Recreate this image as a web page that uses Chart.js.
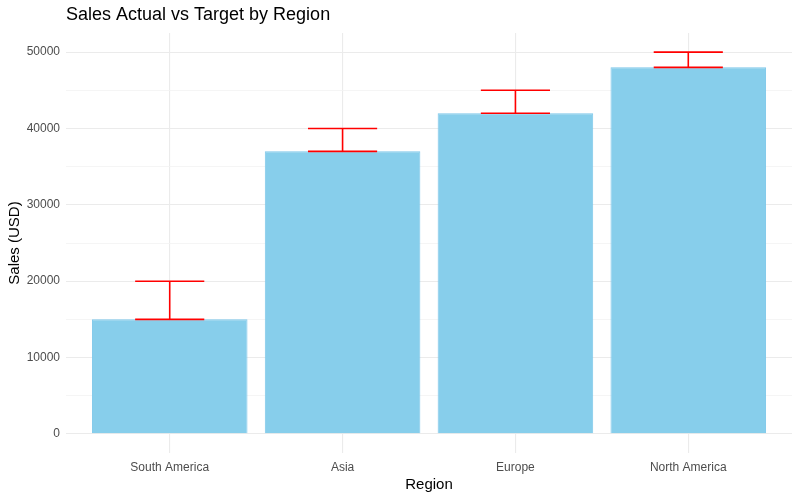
<!DOCTYPE html>
<html>
<head>
<meta charset="utf-8">
<title>Sales Actual vs Target by Region</title>
<script src="https://cdn.jsdelivr.net/npm/chart.js@4.4.1/dist/chart.umd.min.js"></script>
<style>
    html, body { margin: 0; padding: 0; background: #ffffff; }
    #wrap { width: 800px; height: 498px; }
</style>
</head>
<body>
<div id="wrap"><canvas id="salesChart" width="800" height="498"></canvas></div>
<script>
// Chart data
const regions = ['South America', 'Asia', 'Europe', 'North America'];
const actualSales = [15000, 37000, 42000, 48000];
const targetSales = [20000, 40000, 45000, 50000];
const yTicks = [0, 5000, 10000, 15000, 20000, 25000, 30000, 35000, 40000, 45000, 50000];

const fontFamily = '"Liberation Sans", Arial, sans-serif';

// Red error bars from actual up to target, drawn through the chart scales
const errorBarPlugin = {
    id: 'errorBars',
    afterDatasetsDraw(chart) {
        const ctx = chart.ctx;
        const xs = chart.scales.x;
        const ys = chart.scales.y;
        const halfWidth = (xs.getPixelForValue(1.2) - xs.getPixelForValue(1)); // whisker width 0.4
        ctx.save();
        ctx.strokeStyle = '#ff0000';
        ctx.lineWidth = 1.6;
        regions.forEach((r, i) => {
            const x = xs.getPixelForValue(i + 1);
            const yLow = ys.getPixelForValue(actualSales[i]);
            const yHigh = ys.getPixelForValue(targetSales[i]);
            ctx.beginPath();
            ctx.moveTo(x - halfWidth, yHigh);
            ctx.lineTo(x + halfWidth, yHigh);
            ctx.moveTo(x, yHigh);
            ctx.lineTo(x, yLow);
            ctx.moveTo(x - halfWidth, yLow);
            ctx.lineTo(x + halfWidth, yLow);
            ctx.stroke();
        });
        ctx.restore();
    }
};

// Title left-aligned with the plot panel, like ggplot
const titlePlugin = {
    id: 'panelTitle',
    afterDraw(chart) {
        const ctx = chart.ctx;
        ctx.save();
        ctx.fillStyle = '#000000';
        ctx.font = '18px ' + fontFamily;
        ctx.textAlign = 'left';
        ctx.textBaseline = 'middle';
        ctx.fillText('Sales Actual vs Target by Region', chart.chartArea.left, 15);
        ctx.restore();
    }
};

const ctx = document.getElementById('salesChart').getContext('2d');
new Chart(ctx, {
    type: 'bar',
    data: {
        datasets: [{
            label: 'Actual',
            data: actualSales.map((v, i) => ({ x: i + 1, y: v })),
            backgroundColor: '#87ceeb',
            borderColor: '#7cc6ea',
            borderWidth: 1,
            barPercentage: 0.9,
            categoryPercentage: 1.0
        }]
    },
    options: {
        responsive: false,
        animation: false,
        devicePixelRatio: 1,
        layout: { padding: { top: 33, right: 8, left: 6, bottom: 4 } },
        plugins: {
            legend: { display: false },
            tooltip: { enabled: false },
            title: { display: false }
        },
        scales: {
            x: {
                type: 'linear',
                offset: false,
                min: 0.4,
                max: 4.6,
                afterBuildTicks: axis => { axis.ticks = regions.map((r, i) => ({ value: i + 1 })); },
                afterFit: axis => { axis.height = 41; },
                border: { display: false },
                grid: { color: '#ebebeb', lineWidth: 1.1, drawTicks: false, offset: false },
                ticks: {
                    padding: 7,
                    color: '#4d4d4d',
                    font: { family: fontFamily, size: 12 },
                    maxRotation: 0,
                    callback: v => regions[Math.round(v) - 1]
                },
                title: {
                    display: true,
                    text: 'Region',
                    color: '#000000',
                    font: { family: fontFamily, size: 15 },
                    padding: { top: 2, bottom: 0 }
                }
            },
            y: {
                type: 'linear',
                min: -2500,
                max: 52500,
                afterBuildTicks: axis => { axis.ticks = yTicks.map(v => ({ value: v })); },
                afterFit: axis => { axis.width = 60; },
                border: { display: false },
                grid: {
                    drawTicks: false,
                    color: c => (c.tick && c.tick.value % 10000 === 0) ? '#ebebeb' : '#f3f3f3',
                    lineWidth: c => (c.tick && c.tick.value % 10000 === 0) ? 1.1 : 0.8
                },
                ticks: {
                    padding: 6,
                    color: '#4d4d4d',
                    font: { family: fontFamily, size: 12 },
                    callback: v => (v % 10000 === 0) ? String(v) : ''
                },
                title: {
                    display: true,
                    text: 'Sales (USD)',
                    color: '#000000',
                    font: { family: fontFamily, size: 15 },
                    padding: { top: 0, bottom: 2 }
                }
            }
        }
    },
    plugins: [errorBarPlugin, titlePlugin]
});
</script>
</body>
</html>
